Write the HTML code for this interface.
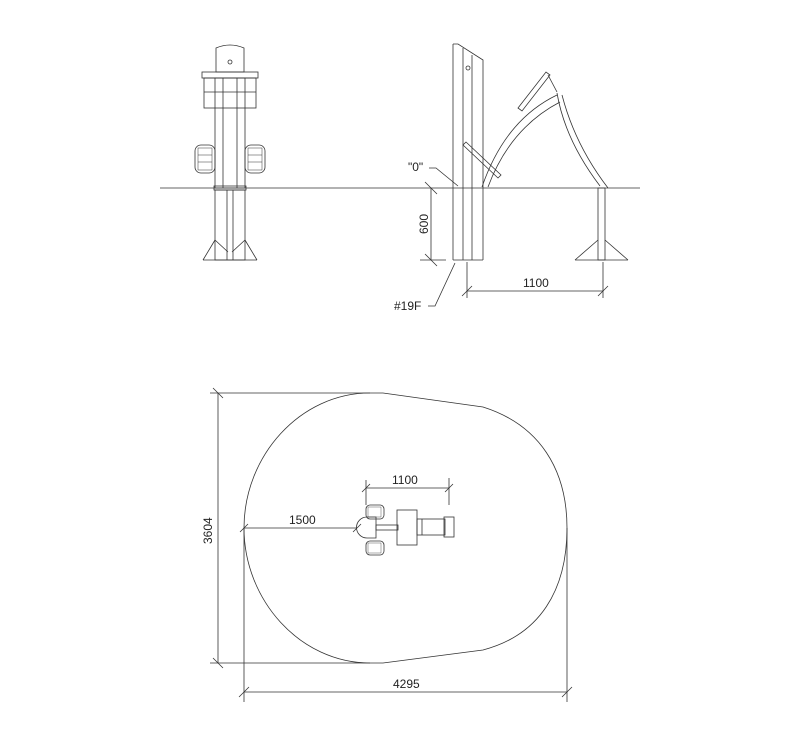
<!DOCTYPE html>
<html><head><style>
html,body{margin:0;padding:0;background:#fff;}
svg{display:block;}
text{font-family:"Liberation Sans",sans-serif;font-size:12px;fill:#222;}
</style></head><body>
<svg width="800" height="740" viewBox="0 0 800 740" xmlns="http://www.w3.org/2000/svg">
<g stroke="#333" stroke-width="0.8" fill="none">
<line x1="160" y1="188" x2="640" y2="188"/>
<path d="M216,48 Q230,42 244,48 L244,72 L216,72 Z"/>
<circle cx="230" cy="62" r="2"/>
<rect x="202" y="72" width="56" height="6"/>
<rect x="204" y="78" width="52" height="30"/>
<line x1="204" y1="92" x2="256" y2="92"/>
<rect x="215" y="78" width="30" height="110"/>
<line x1="223" y1="78" x2="223" y2="188"/><line x1="237" y1="78" x2="237" y2="188"/>
<rect x="195" y="145" width="20" height="28" rx="6"/>
<rect x="245" y="145" width="20" height="28" rx="6"/>
<g stroke-width="0.5"><rect x="198" y="148" width="14" height="22"/><rect x="248" y="148" width="14" height="22"/>
<line x1="198" y1="155" x2="212" y2="155"/><line x1="198" y1="162" x2="212" y2="162"/>
<line x1="248" y1="155" x2="262" y2="155"/><line x1="248" y1="162" x2="262" y2="162"/></g>
<rect x="214" y="186" width="32" height="4"/>
<rect x="215" y="190" width="30" height="70"/>
<line x1="227" y1="190" x2="227" y2="260"/><line x1="233" y1="190" x2="233" y2="260"/>
<path d="M203,260 L215,240 M245,240 L257,260 M203,260 L257,260 M215,240 L228,252 M245,240 L232,252"/>
<path d="M453,44 L458,44 L483,60 L483,188"/>
<line x1="453" y1="44" x2="453" y2="260"/>
<line x1="463" y1="48" x2="463" y2="260"/>
<line x1="472" y1="55" x2="472" y2="260"/>
<line x1="483" y1="188" x2="483" y2="260"/>
<line x1="453" y1="260" x2="483" y2="260"/>
<circle cx="468" cy="68" r="2"/>
<path d="M463,145 L498,178 L501,175 L466,142 Z"/>
<path d="M482,187 Q505,120 557,95 M488,187 Q510,128 560,102"/>
<path d="M557,93 Q565,140 600,186 M562,95 Q575,145 608,188"/>
<path d="M518,108 L546,72 L550,75 L522,111 Z"/>
<line x1="548" y1="75" x2="557" y2="92"/>
<rect x="598" y="188" width="7" height="72"/>
<path d="M575,260 L598,240 M605,240 L628,260 M575,260 L628,260"/>
<line x1="431" y1="188" x2="431" y2="260"/>
<line x1="425" y1="182" x2="437" y2="194"/><line x1="425" y1="254" x2="437" y2="266"/>
<line x1="420" y1="260" x2="446" y2="260"/>
<line x1="467" y1="262" x2="467" y2="298"/><line x1="603" y1="262" x2="603" y2="298"/>
<line x1="467" y1="291" x2="603" y2="291"/>
<line x1="462" y1="296" x2="472" y2="286"/><line x1="598" y1="296" x2="608" y2="286"/>
<path d="M429,168 L436,168 L458,186"/>
<path d="M428,306 L435,306 L455,263"/>
<path d="M370,393 L383,393 L483,407 C540,425 567,470 567,528 C567,590 540,635 483,650 L383,663 L370,663 C300,663 244,600 244,528 C244,456 300,393 370,393 Z"/>
<line x1="210" y1="393" x2="370" y2="393"/>
<line x1="210" y1="663" x2="370" y2="663"/>
<line x1="218" y1="393" x2="218" y2="663"/>
<line x1="213" y1="388" x2="223" y2="398"/><line x1="213" y1="658" x2="223" y2="668"/>
<line x1="244" y1="528" x2="244" y2="702"/><line x1="567" y1="528" x2="567" y2="702"/>
<line x1="244" y1="692" x2="567" y2="692"/>
<line x1="239" y1="697" x2="249" y2="687"/><line x1="562" y1="697" x2="572" y2="687"/>
<line x1="244" y1="528" x2="357" y2="528"/>
<line x1="240" y1="532" x2="248" y2="524"/><line x1="353" y1="532" x2="361" y2="524"/>
<line x1="366" y1="480" x2="366" y2="505"/><line x1="449" y1="478" x2="449" y2="505"/>
<line x1="366" y1="488" x2="449" y2="488"/>
<line x1="362" y1="492" x2="370" y2="484"/><line x1="445" y1="492" x2="453" y2="484"/>
<rect x="366" y="505" width="18" height="14" rx="4"/>
<rect x="366" y="541" width="18" height="14" rx="4"/>
<g stroke-width="0.4"><rect x="368" y="507" width="13" height="10"/><rect x="368" y="543" width="13" height="10"/></g>
<path d="M367,517 A10,10 0 0,0 367,538 L376,538 L376,517 Z"/>
<rect x="376" y="525" width="22" height="5"/>
<rect x="397" y="510" width="20" height="35"/>
<rect x="417" y="519" width="28" height="16"/>
<line x1="422" y1="519" x2="422" y2="535"/>
<rect x="444" y="517" width="10" height="20"/>
</g>
<text x="408" y="171">"0"</text>
<text x="394" y="310">#19F</text>
<text x="523" y="287">1100</text>
<text transform="translate(428,234) rotate(-90)">600</text>
<text x="392" y="484">1100</text>
<text x="289" y="524">1500</text>
<text x="393" y="688">4295</text>
<text transform="translate(212,544) rotate(-90)">3604</text>
</svg>
</body></html>
